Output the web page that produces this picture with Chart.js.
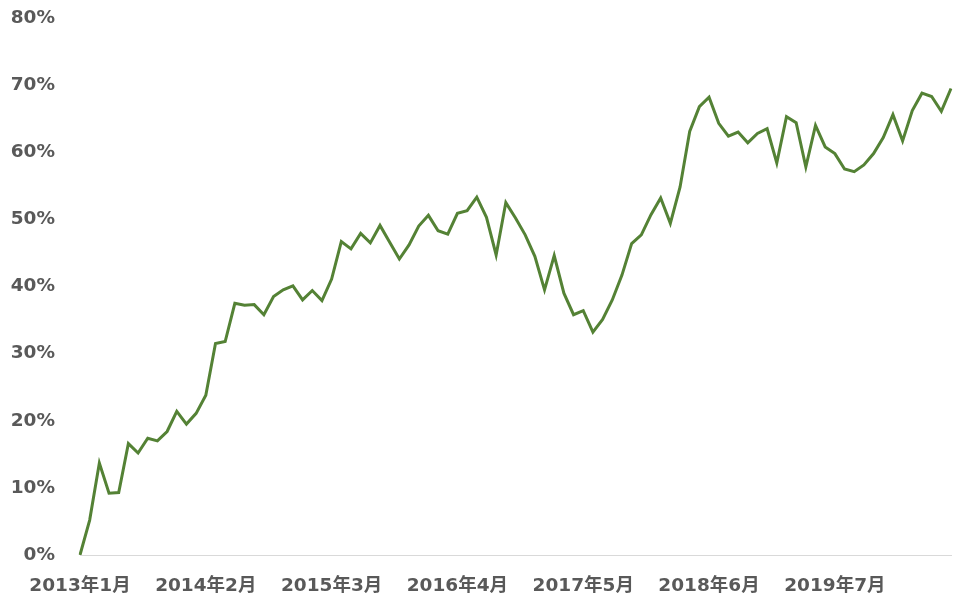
<!DOCTYPE html>
<html>
<head>
<meta charset="utf-8">
<script src="https://cdn.jsdelivr.net/npm/chart.js@4/dist/chart.umd.min.js"></script>
<style>
  html, body { margin: 0; padding: 0; background: #fff; }
  #wrap { width: 971px; height: 616px; }
</style>
</head>
<body>
<div id="wrap"><canvas id="myChart" width="971" height="616"></canvas></div>
<script>
// 月次ラベル（2013年1月〜2020年7月）
const startYear = 2013;
const monthCount = 91;
const months = [];
for (let i = 0; i < monthCount; i++) {
  months.push(`${startYear + Math.floor(i / 12)}年${(i % 12) + 1}月`);
}

// 表示する目盛ラベル
const tickLabels = ['2013年1月', '2014年2月', '2015年3月', '2016年4月', '2017年5月', '2018年6月', '2019年7月'];

// 系列の値（%）
const values = [
  0, 5.2, 13.7, 9.2, 9.3, 16.6, 15.2, 17.4, 17.0, 18.4, 21.4, 19.5,
  21.1, 23.8, 31.5, 31.8, 37.5, 37.2, 37.3, 35.8, 38.5, 39.5, 40.1, 38.0,
  39.4, 37.9, 41.1, 46.7, 45.6, 47.9, 46.5, 49.1, 46.6, 44.1, 46.2, 49.0,
  50.6, 48.3, 47.8, 50.9, 51.3, 53.3, 50.3, 44.7, 52.5, 50.2, 47.7, 44.5,
  39.5, 44.6, 39.0, 35.8, 36.4, 33.2, 35.1, 38.0, 41.7, 46.4, 47.7, 50.7,
  53.2, 49.4, 54.8, 63.1, 66.8, 68.2, 64.3, 62.4, 63.0, 61.4, 62.8, 63.5,
  58.4, 65.3, 64.4, 57.8, 64.0, 60.8, 59.8, 57.5, 57.1, 58.1, 59.8, 62.2,
  65.6, 61.7, 66.2, 68.8, 68.3, 66.1, 69.5
];

const fontFamily = '"DejaVu Sans", Verdana, "Noto Sans CJK JP", sans-serif';
const textColor = '#595959';

const config = {
  type: 'line',
  data: {
    labels: months,
    datasets: [{
      data: values,
      borderColor: '#548235',
      borderWidth: 3,
      pointRadius: 0,
      tension: 0,
      fill: false
    }]
  },
  options: {
    responsive: false,
    animation: false,
    devicePixelRatio: 1,
    layout: { padding: { left: 0, right: 20, top: 18, bottom: 0 } },
    plugins: {
      legend: { display: false },
      tooltip: { enabled: false }
    },
    scales: {
      x: {
        offset: false,
        grid: { display: false, drawTicks: false },
        border: { display: true, color: '#d9d9d9', width: 1 },
        ticks: {
          autoSkip: false,
          maxRotation: 0,
          minRotation: 0,
          padding: 20,
          color: textColor,
          font: { family: fontFamily, size: 18.5, weight: 'bold' },
          callback: function(value, index) {
            const label = months[index];
            return tickLabels.includes(label) ? label : null;
          }
        },
        afterFit: function(scale) { scale.height = 61; }
      },
      y: {
        min: 0,
        max: 80,
        grid: { display: false, drawTicks: false },
        border: { display: false },
        ticks: {
          stepSize: 10,
          padding: 25,
          color: textColor,
          font: { family: fontFamily, size: 18.5, weight: 'bold' },
          callback: function(v) { return v + '%'; }
        },
        afterFit: function(scale) {
          scale.width = 80;
          // 目盛の余白が上下に効かないようにする
          scale.paddingTop = 0;
          scale.paddingBottom = 0;
        }
      }
    }
  }
};

const myChart = new Chart(document.getElementById('myChart'), config);
</script>
</body>
</html>
